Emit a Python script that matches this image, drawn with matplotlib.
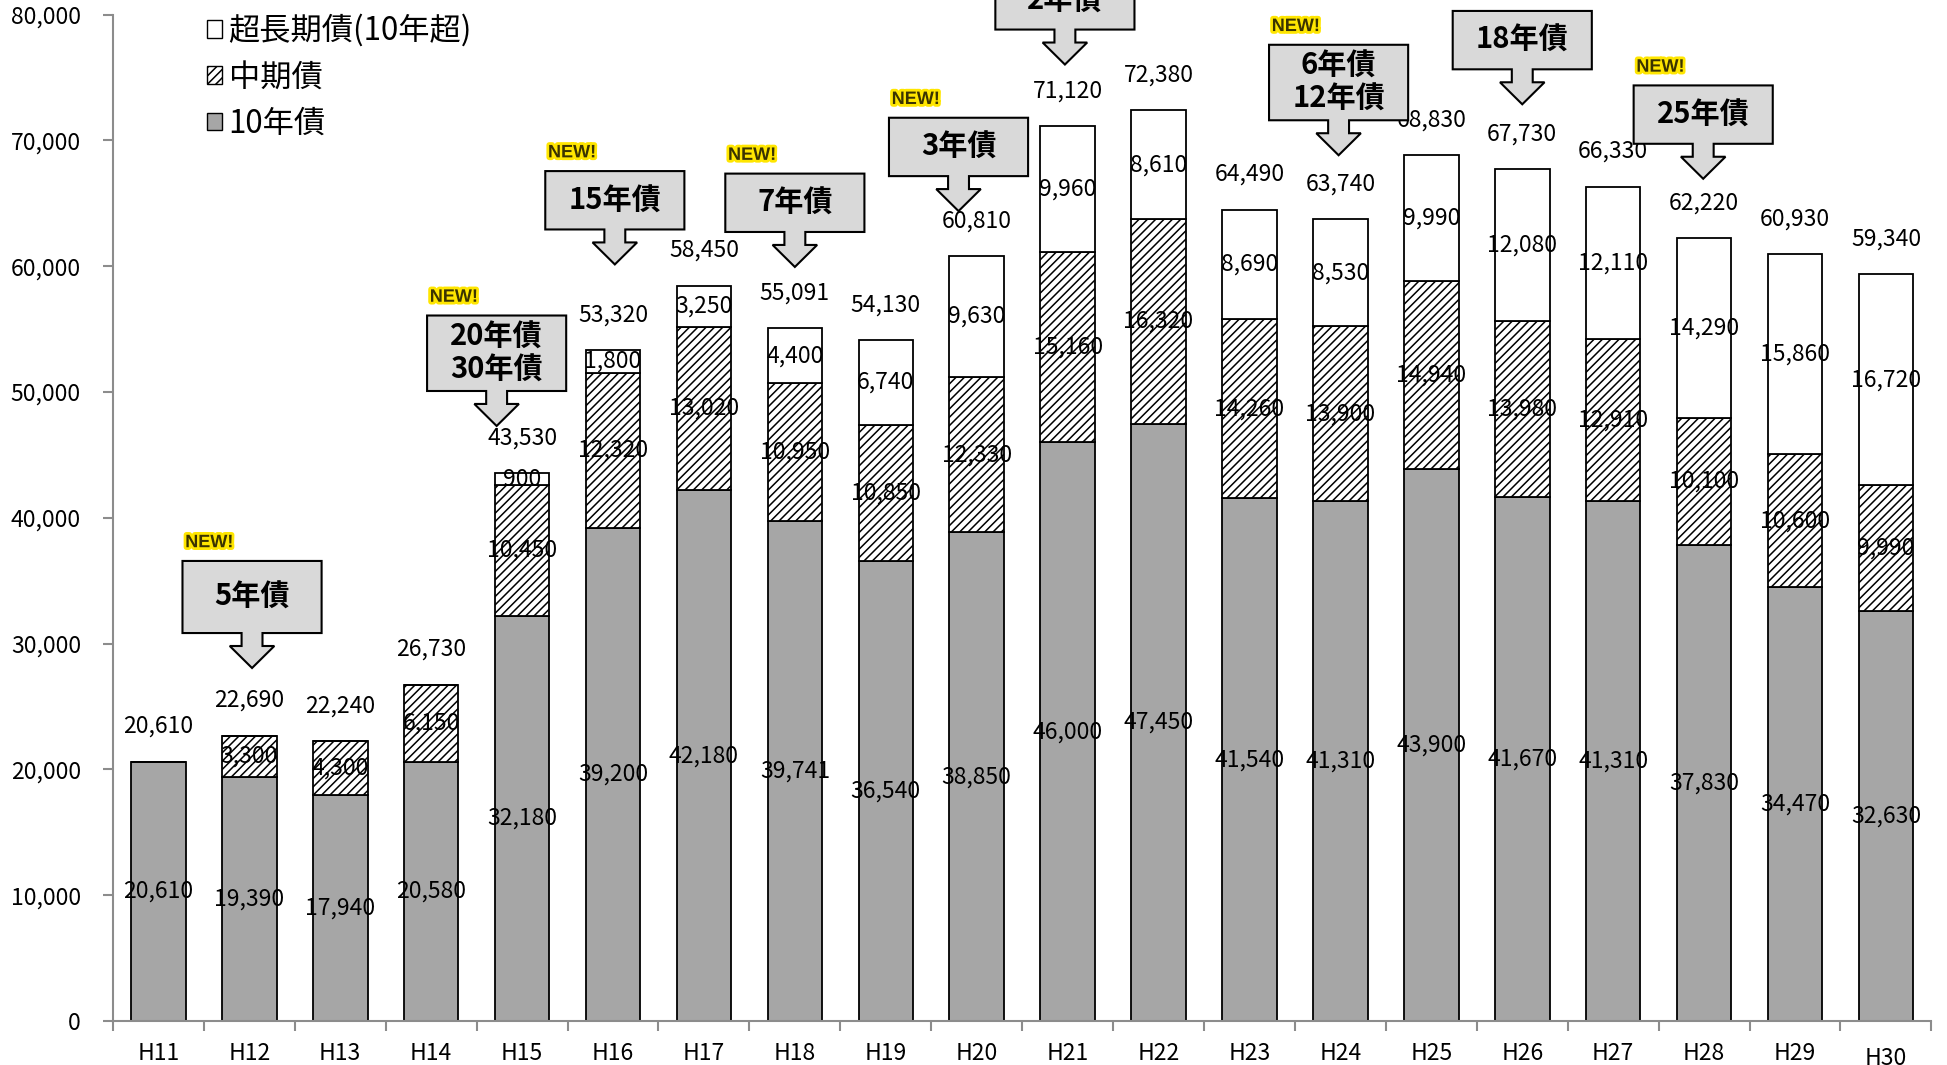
import numpy as np
import matplotlib
matplotlib.use("Agg")
from matplotlib import pyplot as plt
from matplotlib.patches import Polygon, Patch
from matplotlib import patheffects as pe
from matplotlib.transforms import ScaledTranslation

plt.rcParams["font.family"] = ["Noto Sans CJK JP", "DejaVu Sans"]
plt.rcParams["hatch.linewidth"] = 1.1

# データ（億円）
years = ["H11", "H12", "H13", "H14", "H15", "H16", "H17", "H18", "H19", "H20",
         "H21", "H22", "H23", "H24", "H25", "H26", "H27", "H28", "H29", "H30"]
bond10 = [20610, 19390, 17940, 20580, 32180, 39200, 42180, 39741, 36540, 38850,
          46000, 47450, 41540, 41310, 43900, 41670, 41310, 37830, 34470, 32630]
middle = [0, 3300, 4300, 6150, 10450, 12320, 13020, 10950, 10850, 12330,
          15160, 16320, 14260, 13900, 14940, 13980, 12910, 10100, 10600, 9990]
superlong = [0, 0, 0, 0, 900, 1800, 3250, 4400, 6740, 9630,
             9960, 8610, 8690, 8530, 9990, 12080, 12110, 14290, 15860, 16720]
totals = [20610, 22690, 22240, 26730, 43530, 53320, 58450, 55091, 54130, 60810,
          71120, 72380, 64490, 63740, 68830, 67730, 66330, 62220, 60930, 59340]

# 新発銘柄の吹き出し (x位置, 矢印先端の値, 文言)
new_x = [1.03, 3.72, 5.02, 7.0, 8.8, 9.97, 12.98, 15.0, 16.99]
new_tip = [28060, 47300, 60140, 59940, 64380, 76030, 68820, 72870, 66950]
new_text = ["5年債", "20年債\n30年債", "15年債", "7年債", "3年債", "2年債",
            "6年債\n12年債", "18年債", "25年債"]

fig = plt.figure(figsize=(19.47, 10.65), dpi=100)
ax = fig.add_axes([0.058, 0.0413, 0.934, 0.945])

x = np.arange(len(years))
b10 = np.array(bond10)
mid = np.array(middle)
sup = np.array(superlong)
w = 0.6

ax.bar(x, b10, w, color="#A6A6A6", edgecolor="black", linewidth=1.3, zorder=2)
ax.bar(x, mid, w, bottom=b10, color="white", edgecolor="black", hatch="////",
       linewidth=1.3, zorder=2)
ax.bar(x, sup, w, bottom=b10 + mid, color="white", edgecolor="black",
       linewidth=1.3, zorder=2)

fs = 16.5
for i in x:
    bottom = 0
    for v in (bond10[i], middle[i], superlong[i]):
        if v > 0:
            ax.text(i, bottom + v / 2, f"{v:,}", ha="center", va="center",
                    fontsize=fs, zorder=4)
        bottom += v
    ax.text(i, totals[i] + 2800, f"{totals[i]:,}", ha="center", va="center",
            fontsize=fs, zorder=4)

# 吹き出し矢印
bw, sw, hw = 1.53, 0.23, 0.49
arrow_len, head_h = 2780, 1750
for xc, tip, t in zip(new_x, new_tip, new_text):
    bh = 6000 if "\n" in t else 4640
    if t == "5年債":
        bh = 5730
    bot = tip + arrow_len
    top = bot + bh
    neck = tip + head_h
    pts = [(xc - bw / 2, top), (xc + bw / 2, top), (xc + bw / 2, bot),
           (xc + sw / 2, bot), (xc + sw / 2, neck), (xc + hw / 2, neck),
           (xc, tip), (xc - hw / 2, neck), (xc - sw / 2, neck),
           (xc - sw / 2, bot), (xc - bw / 2, bot)]
    ax.add_patch(Polygon(pts, closed=True, facecolor="#D9D9D9", edgecolor="black",
                         linewidth=1.5, zorder=5, clip_on=False))
    ax.text(xc, (top + bot) / 2, t, ha="center", va="center", fontsize=21,
            fontweight="bold", linespacing=1.12, zorder=6, clip_on=False)
    ax.text(xc - bw / 2 + 0.03, top + 1450, "NEW!", ha="left", va="center",
            fontsize=13, fontweight="bold", color="#3A3300",
            family=["Liberation Sans", "DejaVu Sans"], zorder=6,
            path_effects=[pe.withStroke(linewidth=4, foreground="#FFE600")])

ax.set_xlim(-0.5, len(years) - 0.5)
ax.set_ylim(0, 80000)
ax.set_yticks(range(0, 80001, 10000))
ax.set_yticklabels([f"{v:,}" for v in range(0, 80001, 10000)], fontsize=fs)
ax.set_xticks(x)
ax.set_xticklabels(years, fontsize=fs)
ax.set_xticks(np.arange(-0.5, len(years)), minor=True)
ax.tick_params(axis="x", which="major", length=0, pad=15)
ax.tick_params(axis="x", which="minor", length=7, width=1.5, color="#8C8C8C")
ax.tick_params(axis="y", length=7, width=1.5, color="#8C8C8C", pad=16)

for s in ("top", "right"):
    ax.spines[s].set_visible(False)
for s in ("left", "bottom"):
    ax.spines[s].set_color("#8C8C8C")
    ax.spines[s].set_linewidth(1.5)

lab = ax.get_xticklabels()[-1]
lab.set_transform(lab.get_transform() + ScaledTranslation(0, -5 / 100, fig.dpi_scale_trans))

handles = [Patch(facecolor="white", edgecolor="black", label="超長期債(10年超)"),
           Patch(facecolor="white", edgecolor="black", hatch="////", label="中期債"),
           Patch(facecolor="#A6A6A6", edgecolor="black", label="10年債")]
ax.legend(handles=handles, loc="upper left", bbox_to_anchor=(0.043, 1.016),
          frameon=False, fontsize=22.5, handlelength=0.5, handleheight=0.5,
          handletextpad=0.2, labelspacing=0.46, borderpad=0)

fig.savefig("out.png", dpi=100)
